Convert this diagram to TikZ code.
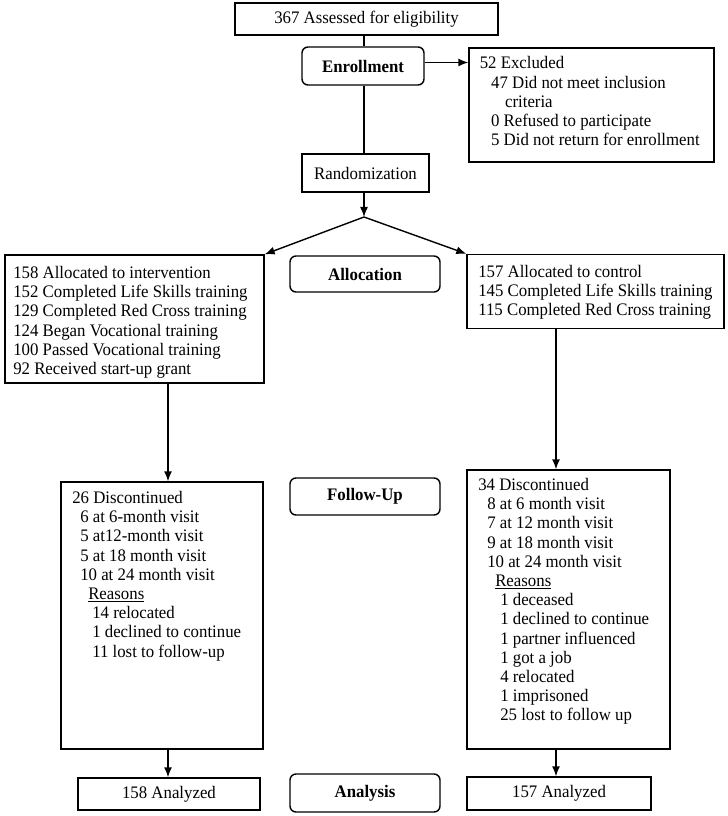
\documentclass[tikz,border=0pt]{standalone}
\usepackage{fontspec}
\setmainfont{Liberation Serif}[FakeStretch=0.955]
\usetikzlibrary{arrows.meta,calc}
\newcommand{\diagfont}{\fontsize{13.2}{14.4}\selectfont}
\tikzset{
  box/.style={draw, line width=1.05pt, inner sep=0pt, rectangle, font=\diagfont},
  stage/.style={draw, line width=1.05pt, inner sep=0pt, rounded corners=4.5pt, font=\diagfont\bfseries},
  txt/.style={anchor=north west, inner sep=0pt, align=left, font=\diagfont},
  conn/.style={line width=1.05pt},
  arr/.style={line width=1.05pt, -{Latex[length=7.5pt,width=6pt]}},
}
\begin{document}
\begin{tikzpicture}[x=0.75pt,y=-0.75pt]
\useasboundingbox (0,0) rectangle (727,816);
\coordinate (cx) at (364,0);
\coordinate (lx) at (168,0);
\coordinate (rx) at (556,0);
\coordinate (apex) at (364,217);

\node[box, minimum width=197.25pt, minimum height=24pt] (assess) at (366.5,19) {367 Assessed for eligibility};
\node[stage, minimum width=91.5pt, minimum height=28.5pt] (enroll) at (363,66) {Enrollment};
\node[box, minimum width=183.75pt, minimum height=85.5pt] (excl) at (591.5,105) {};
\node[txt] (excltxt) at (479.5,56.5) {52 Excluded\\
\hspace*{8.5pt}47 Did not meet inclusion\\
\hspace*{19pt}criteria\\
\hspace*{8.5pt}0 Refused to participate\\
\hspace*{8.5pt}5 Did not return for enrollment};
\node[box, minimum width=95.25pt, minimum height=28.5pt] (rand) at (365.5,173) {Randomization};

\node[box, minimum width=194.25pt, minimum height=96pt] (interv) at (134.5,319) {};
\node[txt] (intervtxt) at (13,266) {158 Allocated to intervention\\
152 Completed Life Skills training\\
129 Completed Red Cross training\\
124 Began Vocational training\\
100 Passed Vocational training\\
92 Received start-up grant};
\node[stage, minimum width=112.5pt, minimum height=27pt] (alloc) at (365,274) {Allocation};
\node[box, minimum width=192.75pt, minimum height=55.5pt] (control) at (595.5,291.5) {};
\node[txt] (controltxt) at (478,265) {157 Allocated to control\\
145 Completed Life Skills training\\
115 Completed Red Cross training};

\node[box, minimum width=151.5pt, minimum height=200.25pt] (lfu) at (162,615.5) {};
\node[txt] (lfutxt) at (72,491) {26 Discontinued\\
\hspace*{6pt}6 at 6-month visit\\
\hspace*{6pt}5 at12-month visit\\
\hspace*{6pt}5 at 18 month visit\\
\hspace*{6pt}10 at 24 month visit\\
\hspace*{12pt}\underline{Reasons}\\
\hspace*{15pt}14 relocated\\
\hspace*{15pt}1 declined to continue\\
\hspace*{15pt}11 lost to follow-up};
\node[stage, minimum width=112.5pt, minimum height=27.75pt] (fu) at (365,496.5) {Follow-Up};
\node[box, minimum width=152.25pt, minimum height=209.25pt] (rfu) at (568.5,609.5) {};
\node[txt] (rfutxt) at (478,478) {34 Discontinued\\
\hspace*{6.75pt}8 at 6 month visit\\
\hspace*{6.75pt}7 at 12 month visit\\
\hspace*{6.75pt}9 at 18 month visit\\
\hspace*{6.75pt}10 at 24 month visit\\
\hspace*{12.75pt}\underline{Reasons}\\
\hspace*{16.5pt}1 deceased\\
\hspace*{16.5pt}1 declined to continue\\
\hspace*{16.5pt}1 partner influenced\\
\hspace*{16.5pt}1 got a job\\
\hspace*{16.5pt}4 relocated\\
\hspace*{16.5pt}1 imprisoned\\
\hspace*{16.5pt}25 lost to follow up};

\node[box, minimum width=136.5pt, minimum height=24pt] (lan) at (169,794) {158 Analyzed};
\node[stage, minimum width=112.5pt, minimum height=28.5pt] (anal) at (365,793) {Analysis};
\node[box, minimum width=138pt, minimum height=24.75pt] (ran) at (559,793.5) {157 Analyzed};

\coordinate (exarr) at ($(enroll.east)+(0,-3.5)$);
\draw[conn] (assess.south -| cx) -- (enroll.north -| cx);
\draw[conn] (enroll.south -| cx) -- (rand.north -| cx);
\draw[arr] (exarr) -- (exarr -| excl.west);
\draw[arr] (rand.south -| cx) -- (apex);
\draw[arr] (apex) -- (interv.north east);
\draw[arr] (apex) -- (control.north west);
\draw[arr] (interv.south -| lx) -- (lfu.north -| lx);
\draw[arr] (control.south -| rx) -- (rfu.north -| rx);
\draw[arr] (lfu.south -| lx) -- (lan.north -| lx);
\draw[arr] (rfu.south -| rx) -- (ran.north -| rx);
\end{tikzpicture}
\end{document}
